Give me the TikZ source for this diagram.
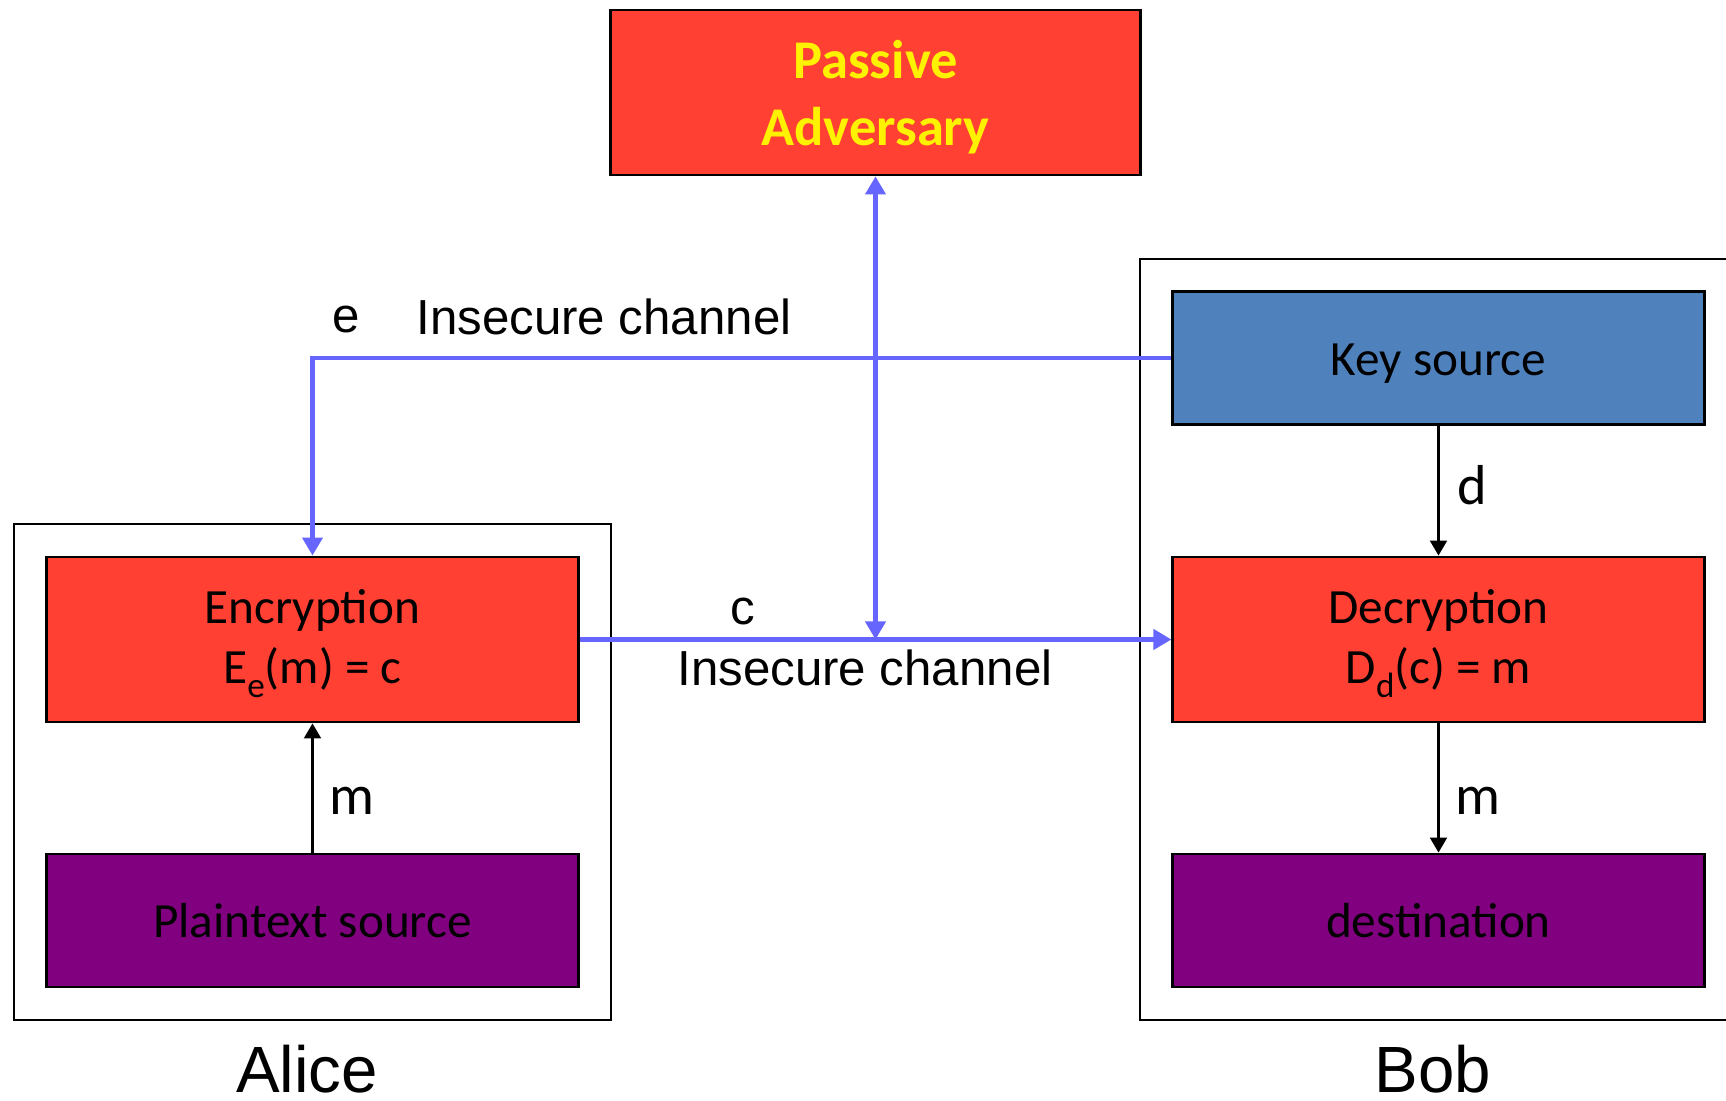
\documentclass[tikz,border=0pt]{standalone}
\usepackage{fontspec}
\setmainfont{Carlito}
\newfontfamily\arialfont{Liberation Sans}
\usetikzlibrary{arrows.meta}
\definecolor{boxred}{RGB}{255,64,51}
\definecolor{keyblue}{RGB}{79,129,189}
\definecolor{plumbox}{RGB}{128,0,128}
\definecolor{chanblue}{RGB}{102,102,255}
\newcommand\padtop[1][12pt]{\rule{0pt}{#1}}
\newcommand\lowsub[1]{\raisebox{-4pt}{\fontsize{10}{10}\selectfont #1}}
\begin{document}
\begin{tikzpicture}[x=0.01cm,y=-0.01cm,every node/.style={font=\fontsize{14}{17}\selectfont},
  blk/.style={draw=black,line width=0.8pt,inner sep=0pt,minimum width=5.31cm,align=center},
  redblk/.style={blk,fill=boxred,minimum height=1.65cm},
  lowblk/.style={blk,minimum height=1.33cm},
  frame/.style={draw=black,line width=0.8pt},
  chan/.style={chanblue,line width=1.15pt,-{Triangle[length=1.8mm,width=2mm]}},
  flow/.style={black,line width=0.6pt,-{Triangle[length=1.5mm,width=1.7mm]}},
  lbl/.style={font=\arialfont\fontsize{14}{17}\selectfont},
  sig/.style={font=\fontsize{16}{19}\selectfont},
  who/.style={font=\arialfont\fontsize{18.6}{22}\selectfont}]
\clip (0,0) rectangle (1726,1101);
\fill[white] (0,0) rectangle (1726,1101);
% Alice and Bob
\draw[frame] (14,524) rectangle (611,1020);
\draw[frame] (1140,259) rectangle (1760,1020);
\node[who] (alice) at (307,1069) {Alice};
\node[who] (bob) at (1433,1069) {Bob};
% blocks
\node[redblk,minimum width=5.29cm,text=yellow,font=\bfseries\fontsize{15.5}{19}\selectfont] (adv) at (875.5,92.5) {\padtop[13.5pt]Passive\\Adversary};
\node[lowblk,fill=keyblue] (key) at (1438.5,358) {\padtop Key source};
\node[redblk] (dec) at (1438.5,639.5) {\padtop Decryption\\D\lowsub{d}(c) = m};
\node[lowblk,fill=plumbox] (dst) at (1438.5,920.5) {destination};
\node[redblk] (enc) at (312.5,639.5) {\padtop Encryption\\E\lowsub{e}(m) = c};
\node[lowblk,fill=plumbox] (pln) at (312.5,920.5) {Plaintext source};
% channels
\draw[chan] (key.west) -| (enc.north);
\draw[chan] (enc.east) -- (dec.west);
\coordinate (tap) at (adv.south |- dec.west);
\draw[chan,{Triangle[length=1.8mm,width=2mm]}-{Triangle[length=1.8mm,width=2mm]}] (adv.south) -- (tap);
\draw[flow] (pln.north) -- (enc.south);
\draw[flow] (key.south) -- (dec.north);
\draw[flow] (dec.south) -- (dst.north);
% labels
\node[lbl] (elbl) at (346,320) {e};
\node[lbl] (topch) at (604,317) {Insecure channel};
\node[lbl] (clbl) at (743,612) {c};
\node[lbl] (midch) at (865,668) {Insecure channel};
\node[sig] (dlbl) at (1472,485) {d};
\node[sig] (mbob) at (1478,801) {m};
\node[sig] (malice) at (352,801) {m};
\end{tikzpicture}
\end{document}
